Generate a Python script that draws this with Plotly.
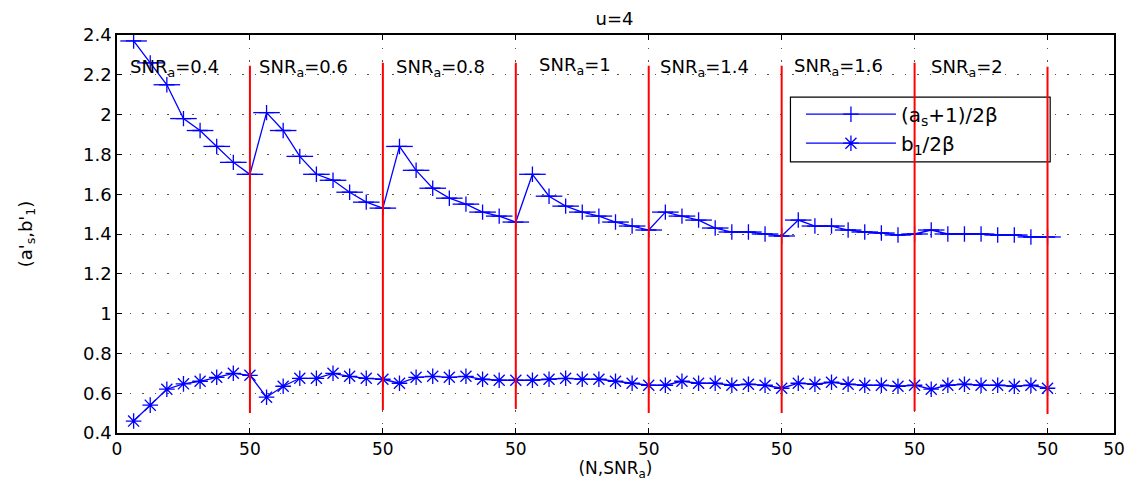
import plotly.graph_objects as go

# ---------------- data ----------------
snr_labels = ["0.4", "0.6", "0.8", "1", "1.4", "1.6", "2"]
segment_width = 50
n_in_segment = [6.25, 12.5, 18.75, 25, 31.25, 37.5, 43.75, 50]

upper = [
    [2.37, 2.26, 2.15, 1.98, 1.92, 1.84, 1.76, 1.70],
    [2.01, 1.92, 1.79, 1.70, 1.67, 1.61, 1.56, 1.53],
    [1.84, 1.72, 1.63, 1.58, 1.55, 1.51, 1.49, 1.46],
    [1.70, 1.59, 1.54, 1.51, 1.49, 1.46, 1.44, 1.42],
    [1.51, 1.49, 1.47, 1.43, 1.41, 1.41, 1.40, 1.39],
    [1.47, 1.44, 1.44, 1.42, 1.41, 1.405, 1.395, 1.40],
    [1.42, 1.40, 1.40, 1.40, 1.395, 1.395, 1.385, 1.385],
]
lower = [
    [0.46, 0.54, 0.62, 0.647, 0.66, 0.68, 0.70, 0.69],
    [0.58, 0.635, 0.675, 0.675, 0.70, 0.685, 0.675, 0.67],
    [0.65, 0.68, 0.685, 0.68, 0.685, 0.67, 0.665, 0.665],
    [0.665, 0.67, 0.675, 0.67, 0.67, 0.66, 0.65, 0.64],
    [0.64, 0.66, 0.65, 0.65, 0.64, 0.645, 0.64, 0.625],
    [0.65, 0.645, 0.655, 0.645, 0.64, 0.64, 0.635, 0.64],
    [0.62, 0.64, 0.645, 0.64, 0.64, 0.635, 0.64, 0.625],
]
divider_top = [2.245, 2.26, 2.26, 2.245, 2.245, 2.26, 2.24]
divider_bottom = [0.50, 0.515, 0.52, 0.50, 0.50, 0.51, 0.495]

x_tick_vals = [0, 50, 100, 150, 200, 250, 300, 350, 375]
x_tick_text = ["0", "50", "50", "50", "50", "50", "50", "50", "50"]
y_tick_vals = [0.4, 0.6, 0.8, 1.0, 1.2, 1.4, 1.6, 1.8, 2.0, 2.2, 2.4]
y_tick_text = ["0.4", "0.6", "0.8", "1", "1.2", "1.4", "1.6", "1.8", "2", "2.2", "2.4"]

label_x = [4.0, 52.5, 104.3, 158.0, 203.5, 253.8, 305.6]
label_y = [2.232, 2.232, 2.232, 2.243, 2.232, 2.237, 2.235]

# ---------------- build ----------------
xs, ys_up, ys_lo = [], [], []
for s in range(len(snr_labels)):
    for k, n in enumerate(n_in_segment):
        xs.append(s * segment_width + n)
        ys_up.append(upper[s][k])
        ys_lo.append(lower[s][k])

font_family = "DejaVu Sans"
blue = "rgb(0,0,255)"
red = "rgb(255,0,0)"

fig = go.Figure()

# legend box (white, drawn beneath traces but above grid)
fig.add_shape(type="rect", xref="x", yref="y", x0=253.3, x1=351.0, y0=1.762, y1=2.088,
              fillcolor="white", line=dict(color="black", width=1.2), layer="between")

fig.add_trace(go.Scatter(
    x=xs, y=ys_up, mode="lines+markers", name="(a<sub>s</sub>+1)/2β",
    line=dict(color=blue, width=1.3),
    marker=dict(symbol="cross-thin", size=11, line=dict(color=blue, width=1.3)),
))
# wider horizontal arms of the '+' markers
fig.add_trace(go.Scatter(
    x=xs, y=ys_up, mode="markers", showlegend=False, hoverinfo="skip",
    marker=dict(symbol="line-ew", size=19, line=dict(color=blue, width=1.3)),
))
fig.add_trace(go.Scatter(
    x=xs, y=ys_lo, mode="lines+markers", name="b<sub>1</sub>/2β",
    line=dict(color=blue, width=1.3),
    marker=dict(symbol="asterisk-open", size=13, line=dict(color=blue, width=1.3)),
))

dx, dy = [], []
for s in range(len(snr_labels)):
    xv = (s + 1) * segment_width
    dx += [xv, xv, None]
    dy += [divider_bottom[s], divider_top[s], None]
fig.add_trace(go.Scatter(x=dx, y=dy, mode="lines", line=dict(color=red, width=2),
                         showlegend=False, hoverinfo="skip"))

for s, lab in enumerate(snr_labels):
    fig.add_annotation(x=label_x[s], y=label_y[s], xref="x", yref="y",
                       text=f"SNR<sub>a</sub>={lab}", showarrow=False,
                       xanchor="left", yanchor="middle",
                       font=dict(family=font_family, size=18, color="black"))

axis_common = dict(showline=True, linecolor="black", linewidth=1.5, mirror="ticks",
                   ticks="inside", ticklen=5, tickcolor="black",
                   showgrid=True, gridcolor="#555555", griddash="1.5px,11px", gridwidth=1,
                   zeroline=False)

fig.update_xaxes(range=[0, 375], tickvals=x_tick_vals, ticktext=x_tick_text,
                 tickfont=dict(family=font_family, size=17, color="black"),
                 title=dict(text="(N,SNR<sub>a</sub>)", font=dict(family=font_family, size=17, color="black"),
                            standoff=2),
                 **axis_common)
fig.update_yaxes(range=[0.4, 2.4], tickvals=y_tick_vals, ticktext=y_tick_text,
                 tickfont=dict(family=font_family, size=18, color="black"),
                 title=dict(text="(a'<sub>s</sub>,b'<sub>1</sub>)", font=dict(family=font_family, size=18, color="black"),
                            standoff=46),
                 **axis_common)

fig.update_layout(
    width=1141, height=481,
    margin=dict(l=117, r=27, t=35, b=48, autoexpand=False),
    paper_bgcolor="white", plot_bgcolor="white",
    title=dict(text="u=4", x=0.5386, xanchor="center", y=0.962, yanchor="middle",
               font=dict(family=font_family, size=18, color="black")),
    showlegend=True,
    legend=dict(x=0.686, y=0.85, xanchor="left", yanchor="top",
                bgcolor="rgba(0,0,0,0)", borderwidth=0, itemwidth=90,
                font=dict(family=font_family, size=20, color="black"),
                tracegroupgap=0),
    font=dict(family=font_family, color="black"),
)

fig.write_html("out.html", config={"displayModeBar": False},
               post_script="document.body.style.margin='0';document.body.style.padding='0';")
